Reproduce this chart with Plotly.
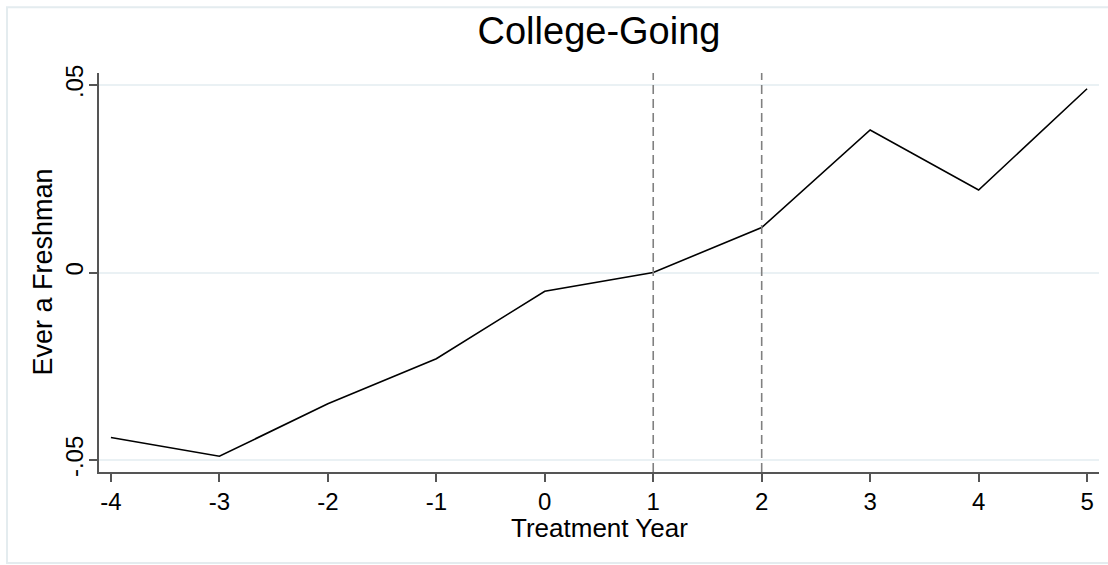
import plotly.graph_objects as go

years = [-4, -3, -2, -1, 0, 1, 2, 3, 4, 5]
effect = [-0.044, -0.049, -0.035, -0.023, -0.005, 0.0, 0.012, 0.038, 0.022, 0.049]
x_ticks = [-4, -3, -2, -1, 0, 1, 2, 3, 4, 5]
x_tick_text = ["-4", "-3", "-2", "-1", "0", "1", "2", "3", "4", "5"]
y_ticks = [-0.05, 0.0, 0.05]
y_tick_text = ["-.05", "0", ".05"]
vlines = [1, 2]
x_title = "Treatment Year"
y_title = "Ever a Freshman"

FONT = "Liberation Sans, Arial, sans-serif"

fig = go.Figure()
fig.add_trace(go.Scatter(x=years, y=effect, mode="lines",
                         line=dict(color="black", width=1.6), showlegend=False))

for v in vlines:
    fig.add_shape(type="line", xref="x", yref="paper", x0=v, x1=v, y0=0, y1=1,
                  line=dict(color="#808080", width=1.6, dash="9px,5px"))

# outer graph region frame
fig.add_shape(type="rect", xref="paper", yref="paper",
              x0=-0.092, x1=1.05, y0=-0.228, y1=1.165,
              line=dict(color="#e4ecef", width=2), layer="below")

fig.add_annotation(text=x_title, xref="paper", yref="paper", x=0.5, y=-0.14,
                   xanchor="center", yanchor="middle", showarrow=False,
                   font=dict(size=26, family=FONT, color="black"))
fig.add_annotation(text=y_title, xref="paper", yref="paper", x=-0.057, y=0.5,
                   xanchor="center", yanchor="middle", showarrow=False, textangle=-90,
                   font=dict(size=27, family=FONT, color="black"))

fig.update_layout(
    width=1108, height=565,
    margin=dict(l=99, r=9, t=73, b=93, autoexpand=False),
    paper_bgcolor="white", plot_bgcolor="white",
    font=dict(family=FONT, color="black"),
    title=dict(text="College-Going", x=0.5, xref="paper", xanchor="center",
               y=1 - 31 / 565, yanchor="middle", font=dict(size=38, family=FONT)),
    xaxis=dict(range=[-4.11, 5.11], tickvals=x_ticks, ticktext=x_tick_text,
               ticks="outside", ticklen=8, automargin=False,
               tickcolor="#555", tickwidth=1.5, showline=True, linecolor="#555", linewidth=1.5,
               showgrid=False, zeroline=False, tickfont=dict(size=24), ticklabelstandoff=-1),
    yaxis=dict(range=[-0.0532, 0.0532], tickvals=y_ticks, ticktext=y_tick_text,
               tickangle=-90, ticks="outside", ticklen=8, tickcolor="#555", tickwidth=1.5,
               showline=True, linecolor="#555", linewidth=1.5, automargin=False,
               showgrid=True, gridcolor="#eaf1f4", gridwidth=1.5, zeroline=False,
               tickfont=dict(size=24), ticklabelstandoff=-3),
)

fig.write_html("out.html", config={"displayModeBar": False},
               post_script="document.body.style.margin='0';document.body.style.overflow='hidden';")
